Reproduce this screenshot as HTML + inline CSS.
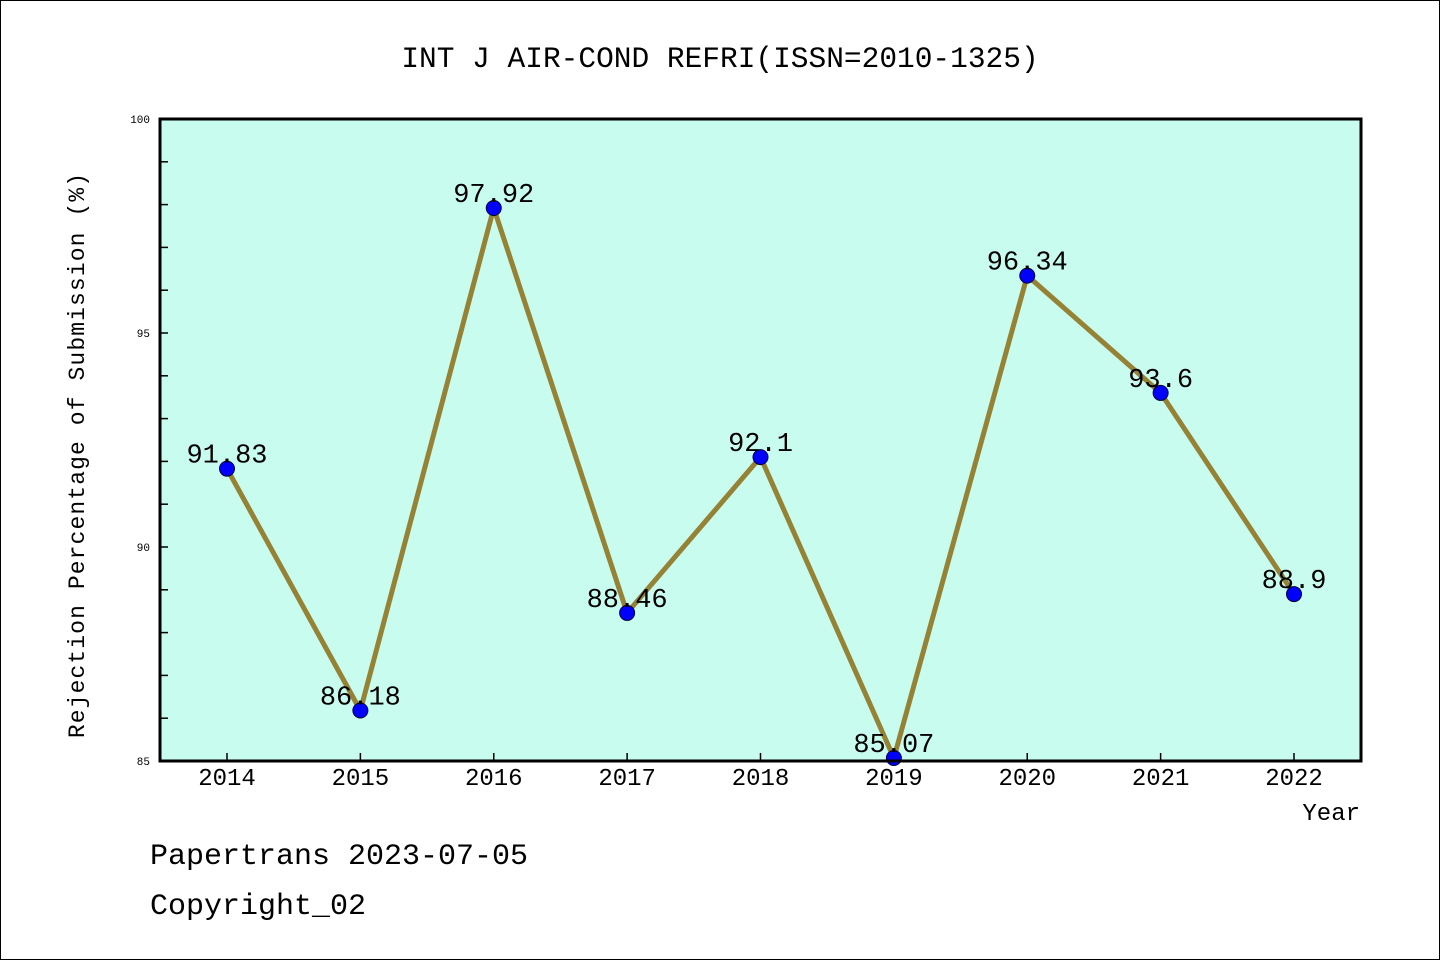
<!DOCTYPE html>
<html><head><meta charset="utf-8"><style>
body{margin:0;background:#fff;}
svg{display:block;font-family:"Liberation Mono","WenQuanYi Zen Hei",monospace;}
</style></head><body>
<svg id="chart" width="1440" height="960" xmlns="http://www.w3.org/2000/svg">
<rect x="0.5" y="0.5" width="1439" height="959" fill="#fff" stroke="#000"/>
<text x="720" y="67" font-size="29.5" text-anchor="middle">INT J AIR-COND REFRI(ISSN=2010-1325)</text>
<rect x="160" y="119" width="1201" height="642" fill="#c8fcee"/>
<g id="ticks"></g>
<g id="series"></g>
<rect x="160" y="119" width="1201" height="642" fill="none" stroke="#000" stroke-width="3"/>
<text transform="translate(84,455) rotate(-90)" font-size="23" text-anchor="middle" letter-spacing="1.1">Rejection Percentage of Submission (%)</text>
<text x="1360" y="820" font-size="24" text-anchor="end">Year</text>
<text x="150" y="864" font-size="30">Papertrans 2023-07-05</text>
<text x="150" y="914" font-size="30">Copyright_02</text>
</svg>
<script>
const years=["2014","2015","2016","2017","2018","2019","2020","2021","2022"];
const values=[91.83,86.18,97.92,88.46,92.1,85.07,96.34,93.6,88.9];
const labels=["91.83","86.18","97.92","88.46","92.1","85.07","96.34","93.6","88.9"];
const yTicks=[85,90,95,100];
const NS="http://www.w3.org/2000/svg";
const x=i=>227+i*(1294-227)/(years.length-1);
const y=v=>761-(v-85)*(642/15);
function mk(t,a,p){const e=document.createElementNS(NS,t);for(const k in a)e.setAttribute(k,a[k]);p.appendChild(e);return e;}
const tg=document.getElementById('ticks'),sg=document.getElementById('series');
for(let v=85;v<=100;v++){const l=mk('line',{x1:160,x2:168,y1:y(v),y2:y(v),stroke:'#000','stroke-width':1.5},tg);

}
yTicks.forEach(v=>{const t=mk('text',{x:150,y:y(v)+4,'font-size':11,'text-anchor':'end'},tg);t.textContent=v;

});
years.forEach((yr,i)=>{const l=mk('line',{x1:x(i),x2:x(i),y1:761,y2:753,stroke:'#000','stroke-width':1.5},tg);


const t=mk('text',{x:x(i),y:785,'font-size':24,'text-anchor':'middle'},tg);t.textContent=yr;

});
const pl=mk('polyline',{points:values.map((v,i)=>x(i)+','+y(v)).join(' '),fill:'none',stroke:'#968235','stroke-width':5,'stroke-linejoin':'round'},sg);


values.forEach((v,i)=>{const c=mk('circle',{cx:x(i),cy:y(v),r:7.5,fill:'#0000ff',stroke:'#000033','stroke-width':1},sg);


const t=mk('text',{x:x(i),y:y(v)-6,'font-size':27,'text-anchor':'middle'},sg);t.textContent=labels[i];

});
</script>
</body></html>
